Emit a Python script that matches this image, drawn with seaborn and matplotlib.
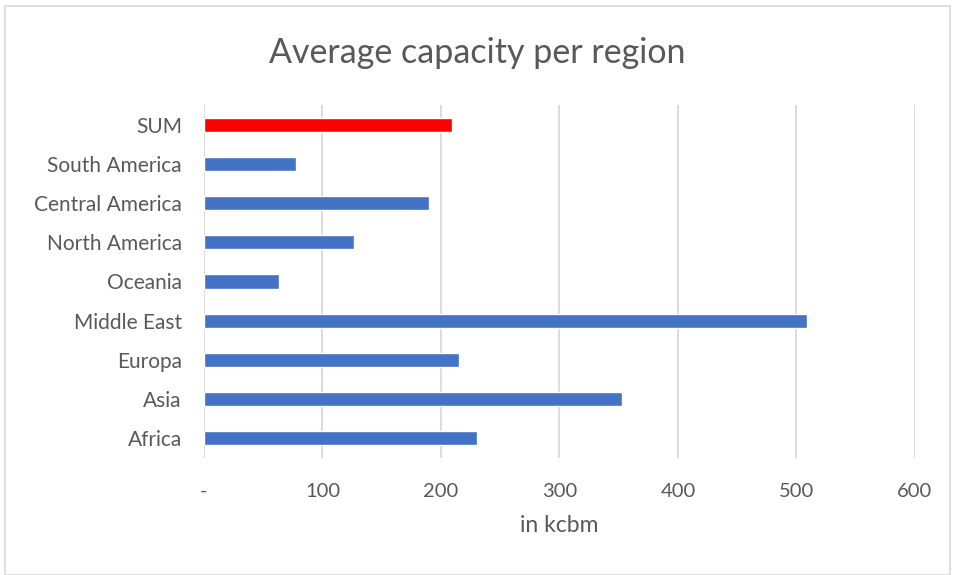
import matplotlib
matplotlib.use("Agg")
import matplotlib.pyplot as plt
import matplotlib.patches as mpatches
from matplotlib.ticker import FuncFormatter, MultipleLocator
import seaborn as sns
import pandas as pd

# ── data ──────────────────────────────────────────────────────────────────────
regions = ["SUM", "South America", "Central America", "North America", "Oceania",
           "Middle East", "Europa", "Asia", "Africa"]
capacity = [209, 78, 190, 127, 63, 509, 215, 353, 230]
bar_colors = ["#FF0000"] + ["#4472C4"] * 8

df = pd.DataFrame({"region": regions, "capacity": capacity})

sns.set_style("white")
plt.rcParams["font.family"] = ["Lato", "DejaVu Sans"]
TXT = "#595959"

fig = plt.figure(figsize=(9.55, 5.75), dpi=100)
ax = fig.add_axes([0.2136, 0.2042, 0.7444, 0.6125])

sns.barplot(data=df, x="capacity", y="region", hue="region", palette=bar_colors,
            order=regions, width=0.36, legend=False, ax=ax, saturation=1)

ax.set_xlim(0, 600)
ax.xaxis.set_major_locator(MultipleLocator(100))
ax.xaxis.set_major_formatter(FuncFormatter(lambda v, p: "-" if v == 0 else f"{v:.0f}"))
ax.grid(axis="x", color="#D9D9D9", linewidth=1.3)
ax.set_axisbelow(True)
for s in ax.spines.values():
    s.set_visible(False)
ax.tick_params(axis="y", length=0, labelsize=15, colors=TXT, pad=16)
ax.tick_params(axis="x", length=0, labelsize=14.5, colors=TXT, pad=18)

ax.set_ylabel("")
ax.set_xlabel("in kcbm", fontsize=16.5, color=TXT, labelpad=11)
fig.text(0.5, 0.908, "Average capacity per region", ha="center", va="center",
         fontsize=24.5, color=TXT)

# chart frame
fig.patches.append(mpatches.Rectangle((0.005, 0.0), 0.99, 0.99, transform=fig.transFigure,
                                      fill=False, edgecolor="#D9D9D9", linewidth=1.2))

plt.savefig("out.png", dpi=100)
